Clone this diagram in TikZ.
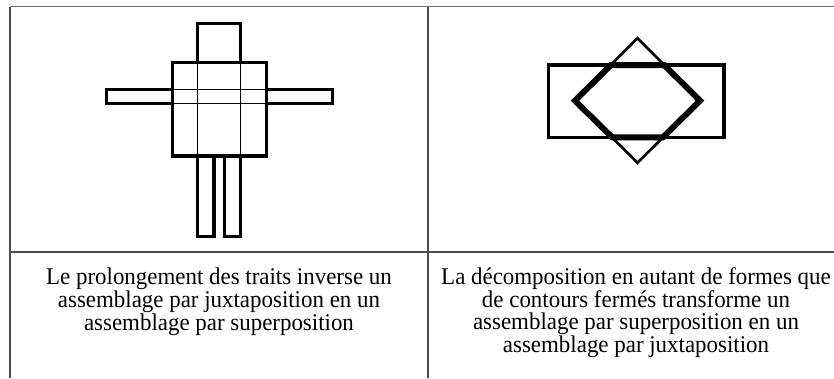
\documentclass[tikz,border=0pt]{standalone}
\usepackage{fontspec}
\setmainfont{Liberation Serif}[FakeStretch=0.955]

\begin{document}
\begin{tikzpicture}[x=1pt, y=-1pt]
		\tikzstyle{regle}=[draw=black!70, line width=1.2pt]
		\tikzstyle{contour}=[draw, line width=3.3pt]
		\tikzstyle{trait}=[draw, line width=1pt]
		\tikzstyle{legende}=[align=center, inner sep=0pt, anchor=base, font=\fontsize{24}{21.8}\selectfont]
		\useasboundingbox (0,0) rectangle (834,378);
		
		% tableau
		\coordinate (hg) at (10,6.5);
		\coordinate (hd) at (834,6.5);
		\coordinate (mh) at (428,6.5);
		\draw[regle, draw=black!55] (hg) -- (hd);
		\draw[regle] (hg) -- (10,378);
		\draw[regle] (mh) -- (428,378);
		\draw[regle] (10,252) -- (834,252);
		
		% bonhomme : juxtaposition
		\draw[contour] (197.7,23.3) rectangle (240.7,62.7);
		\draw[contour] (106.7,89.7) rectangle (172.3,103.7);
		\draw[contour] (266.7,89.7) rectangle (332.3,103.7);
		\draw[contour] (172.3,62.7) rectangle (266.7,156);
		\draw[contour] (197.7,156) rectangle (214,236.7);
		\draw[contour] (224.7,156) rectangle (240.7,236.7);
		\foreach \x in {197.7,240.7}
		\draw[trait] (\x,62.7) -- (\x,156);
		\foreach \y in {89.7,103.7}
		\draw[trait] (172.3,\y) -- (266.7,\y);
		
		% losange et rectangle : superposition
		\coordinate (l-t) at (637.5,38.3);
		\coordinate (l-r) at (700,100.7);
		\coordinate (l-b) at (637.5,162.7);
		\coordinate (l-l) at (575,100.7);
		\draw[contour] (548.3,65) rectangle (724,137.3);
		\draw[line width=2.7pt] (l-t) -- (l-r) -- (l-b) -- (l-l) -- cycle;
		\draw[line width=6pt] (610.8,65) -- (l-l) -- (612.1,137.3) -- (662.9,137.3) -- (l-r) -- (664.2,65) -- cycle;
		
		% legendes (ancre sur la derniere ligne)
		\node[legende](txt-g) at (219,330.2) {Le prolongement des traits inverse un\\assemblage par juxtaposition en un\\assemblage par superposition};
		\node[legende](txt-d) at (636,352) {La décomposition en autant de formes que\\de contours fermés transforme un\\assemblage par superposition en un\\assemblage par juxtaposition};
\end{tikzpicture}
\end{document}
